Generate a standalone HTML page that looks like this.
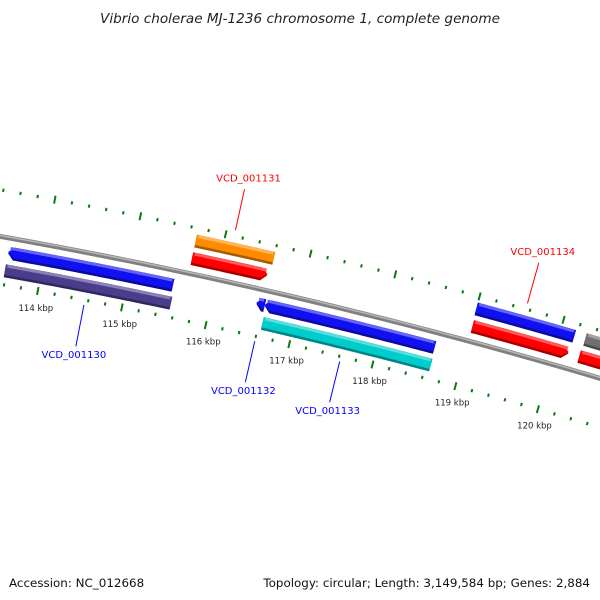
<!DOCTYPE html>
<html><head><meta charset="utf-8"><style>
body{margin:0;background:#fff}
svg{display:block;font-family:"DejaVu Sans","Liberation Sans",sans-serif}
</style></head><body>
<svg id="map" width="600" height="600" viewBox="0 0 600 600" xmlns="http://www.w3.org/2000/svg">
<rect width="600" height="600" fill="#fff"/>
<text x="300" y="23" text-anchor="middle" font-size="13.6" font-style="italic" fill="#222">Vibrio cholerae MJ-1236 chromosome 1, complete genome</text>
<g id="ticks"></g>
<path id="backbone" fill="none" stroke="#808080" stroke-width="5"/>
<path id="backboneHi" fill="none" stroke="#b8b8b8" stroke-width="1.5"/>
<g id="feats"></g>
<g id="labels"></g>
<text x="9" y="587" font-size="11.9" fill="#111">Accession: NC_012668</text>
<text x="590" y="587" text-anchor="end" font-size="11.9" fill="#111">Topology: circular; Length: 3,149,584 bp; Genes: 2,884</text>
</svg>
<script>
const tickLabels = [114,115,116,117,118,119,120];
const featStarts = [113.58,113.58,115.68,115.68,116.52,116.62,116.64,119.0,119.01,120.3,120.29];
const featEnds   = [115.53,115.55,116.6,116.57,116.62,118.65,118.66,120.17,120.16,122.5,122.5];
const featRings  = [-1,-2,2,1,-1,-1,-2,2,1,2,1];
const featColors = ['#1010f0','#4a3d8c','#ff8c00','#ff0000','#1010f0','#1010f0','#00cccc','#1010f0','#ff0000','#707070','#ff0000'];
const featArrows = ['l','','','r','l','l','','','r','',''];
const labelNames = ['VCD_001130','VCD_001131','VCD_001132','VCD_001133','VCD_001134'];
const labelKbp   = [114.56,116.1,116.6,117.62,119.55];
const labelSide  = [-1,1,-1,-1,1];
const labelColors= ['#0000ff','#ff0000','#0000ff','#0000ff','#ff0000'];

const CX=-948, CY=5582, R=5429, A0=0.1842, K=0.01592;
const NS='http://www.w3.org/2000/svg';
const ringR={1:R+15,2:R+33,'-1':R-15,'-2':R-33};
function ang(k){return A0+(k-114)*K;}
function P(k,r){const a=ang(k);return [CX+r*Math.sin(a),CY-r*Math.cos(a)];}
function arc(k0,k1,r){let d='';const n=40;for(let i=0;i<=n;i++){const p=P(k0+(k1-k0)*i/n,r);d+=(i?'L':'M')+p[0].toFixed(2)+' '+p[1].toFixed(2);}return d;}
function mk(tag,parent,attrs){const e=document.createElementNS(NS,tag);for(const k in attrs)e.setAttribute(k,attrs[k]);parent.appendChild(e);return e;}

document.getElementById('backbone').setAttribute('d',arc(112,124,R));
document.getElementById('backboneHi').setAttribute('d',arc(112,124,R+1));

const tg=document.getElementById('ticks');
for(let i=Math.round(112.8*5);i<=Math.round(122*5);i++){
  const k=i/5, major=(i%5===0);
  [R+46,R-47].forEach(function(rr){
    const h=major?4:1.6;
    const a=P(k,rr-h),b=P(k,rr+h);
    const l=mk('line',tg,{x1:a[0],y1:a[1],x2:b[0],y2:b[1],stroke:'#0a7a0a','stroke-width':2});
    
    
  });
}
tickLabels.forEach(function(k){
  const p=P(k,R-63);
  const t=mk('text',tg,{x:p[0]+1,y:p[1]+4,'text-anchor':'middle','font-size':'8.5',fill:'#222'});
  t.textContent=k+' kbp';
  
  
});

const fg=document.getElementById('feats');
function shade(c,f){const n=parseInt(c.slice(1),16);let r=n>>16,g=(n>>8)&255,b=n&255;
  const m=v=>Math.max(0,Math.min(255,Math.round(f>0?v+(255-v)*f:v*(1+f))));
  return 'rgb('+m(r)+','+m(g)+','+m(b)+')';}
function band(s,e,r0,r1,arrow){
  const head=0.07,n=40,pts=[];
  let a0=s,a1=e;
  if(arrow==='r')a1=e-head; if(arrow==='l')a0=s+head;
  for(let i=0;i<=n;i++)pts.push(P(a0+(a1-a0)*i/n,r1));
  if(arrow==='r')pts.push(P(e,(r0+r1)/2));
  for(let i=n;i>=0;i--)pts.push(P(a0+(a1-a0)*i/n,r0));
  if(arrow==='l')pts.push(P(s,(r0+r1)/2));
  return 'M'+pts.map(p=>p[0].toFixed(2)+' '+p[1].toFixed(2)).join('L')+'Z';
}
for(let i=0;i<featStarts.length;i++){
  const rc=ringR[featRings[i]], c=featColors[i];
  const g=mk('g',fg,{});
  
  
  const p1=mk('path',g,{d:band(featStarts[i],featEnds[i],rc-6.5,rc+6.5,featArrows[i]),fill:shade(c,-0.35)});
  
  
  const p2=mk('path',g,{d:band(featStarts[i],featEnds[i],rc-4,rc+6.5,featArrows[i]),fill:c});
  
  
  const p3=mk('path',g,{d:band(featStarts[i]+0.02,featEnds[i]-0.02,rc+3.5,rc+6.5,''),fill:shade(c,0.35)});
  
  
}

const lg=document.getElementById('labels');
for(let i=0;i<labelNames.length;i++){
  const s=labelSide[i], k=labelKbp[i];
  const a=P(k,R+s*52), b=P(k,R+s*94);
  const ln=mk('line',lg,{x1:a[0],y1:a[1],x2:b[0],y2:b[1],stroke:labelColors[i],'stroke-width':1});
  
  
  const t=mk('text',lg,{x:b[0]+(s>0?4:-2),y:b[1]+(s>0?-8:12),'text-anchor':'middle','font-size':'10',fill:labelColors[i]});
  t.textContent=labelNames[i];
  
  
}
</script>
</body></html>
